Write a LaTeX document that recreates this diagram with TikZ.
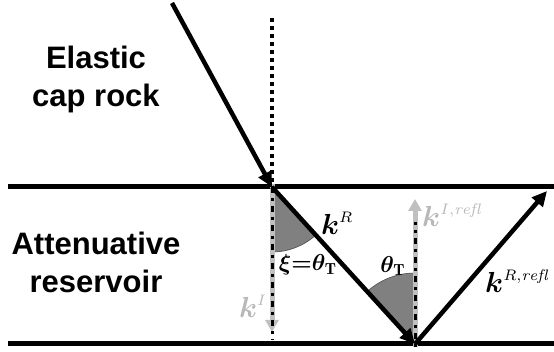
\documentclass[tikz,border=0pt]{standalone}
\usepackage{amsmath}
\usepackage{graphicx}
\usepackage{fontspec}
\usetikzlibrary{arrows.meta}
\newfontfamily\labfont{Liberation Sans}
\definecolor{lgray}{HTML}{C0C0C0}
\definecolor{tgray}{HTML}{B8B8B8}
\definecolor{sgray}{HTML}{808080}
\newcommand{\kvec}[1]{\scalebox{2.9}{$\boldsymbol{k}^{\scalebox{0.75}{$\scriptstyle #1$}}$}}
\newcommand{\anglab}[1]{\scalebox{2.3}{\boldmath$#1$}}
\begin{document}
\begin{tikzpicture}[x=1pt,y=-1pt,
  iface/.style={line width=5pt},
  wave/.style={line width=4.5pt,-{Triangle[length=15pt,width=14pt]}},
  graywave/.style={line width=5pt,lgray,-{Triangle[length=12pt,width=13pt]}},
  normal/.style={line width=3pt,dash pattern=on 3pt off 5pt on 6pt off 5pt},
  sector/.style={fill=sgray,draw=black!70,line width=0.6pt},
  region/.style={font=\labfont\bfseries\fontsize{31}{38}\selectfont,align=center,inner sep=0pt},
  klab/.style={inner sep=0pt,anchor=base west}]
\useasboundingbox (0,0) rectangle (554,352);
% coordinates
\coordinate (src) at (172,3);
\coordinate (P) at (272,187);
\coordinate (Q) at (415,344);
\coordinate (out) at (547,191);
\coordinate (ntop) at (272,18);
\coordinate (IL) at (8,187);
\coordinate (IR) at (554,187);
\coordinate (BL) at (8,344);
\coordinate (BR) at (554,344);
\coordinate (kIend) at (272,332);
\coordinate (kIrend) at (415,199);
% interfaces
\draw[iface] (IL) -- (IR);
\draw[iface] (BL) -- (BR);
% angle sectors
\draw[sector] (P) -- ++(47.8:65) arc[start angle=47.8,end angle=90,radius=65] -- cycle;
\draw[sector] (Q) -- ++(-132.3:71) arc[start angle=-132.3,end angle=-90,radius=71] -- cycle;
% gray (attenuation) vectors
\draw[graywave] ([yshift=3pt]P) -- (kIend);
\draw[graywave] ([yshift=-3pt]Q) -- (kIrend);
% normals
\draw[line width=4pt,dash pattern=on 4pt off 4pt] (ntop) -- (P);
\draw[normal] ([yshift=8pt]P) -- (272,340);
\draw[normal] ([yshift=-3pt]Q) -- (415,222);
% wave vectors
\draw[wave] (src) -- (P);
\draw[wave] (P) -- (Q);
\draw[wave] (Q) -- (out);
% labels
\node[region] (cap) at (96,79) {Elastic\\cap rock};
\node[region] (res) at (96,262) {Attenuative\\reservoir};
\node[klab] (kR) at (321,235) {\kvec{R}};
\node[klab,text=tgray] (kI) at (239,318) {\kvec{I}};
\node[klab,text=tgray] (kIr) at (422,227) {\kvec{I,\mathit{refl}}};
\node[klab] (kRr) at (485,293) {\kvec{R,\mathit{refl}}};
\node[inner sep=0pt] (xilab) at (308,265) {\anglab{\xi{=}\theta_{\mathrm{T}}}};
\node[inner sep=0pt] (thlab) at (393,266) {\anglab{\theta_{\mathrm{T}}}};
\end{tikzpicture}
\end{document}
